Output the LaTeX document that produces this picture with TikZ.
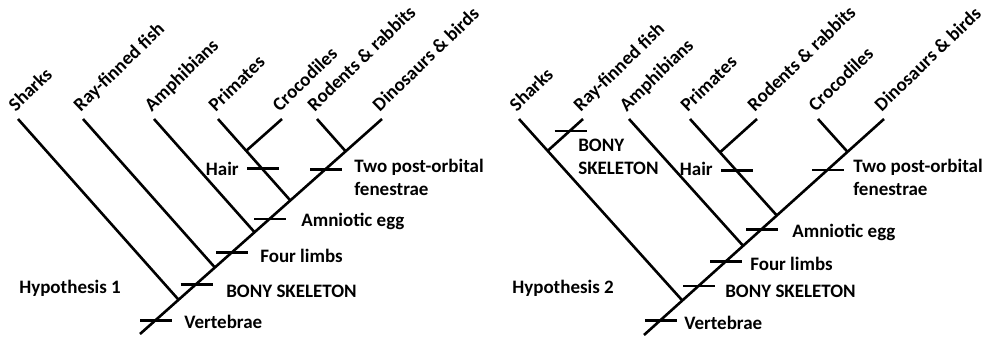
\documentclass[tikz,border=0pt]{standalone}
\usepackage{fontspec}
\setmainfont{Carlito}
\usetikzlibrary{calc}

\newcommand{\trait}[1]{\draw ([xshift=-15pt]#1) -- ([xshift=17pt]#1);}

\begin{document}
\begin{tikzpicture}[x=1pt, y=-1pt, line width=2.6pt,
  every node/.style={font=\fontsize{19}{23}\selectfont\bfseries, inner sep=0pt},
  taxon/.style={rotate=44, anchor=base west},
  note/.style={anchor=base west, align=left}]
\useasboundingbox (0,0) rectangle (988,341);
% Hypothesis 1
\coordinate (rootL) at (140,334);\coordinate (dinoL) at (382,119);
\coordinate (sharkL) at (18,119);\coordinate (rayL) at (83,119);\coordinate (amphL) at (154,119);
\coordinate (primL) at (218,119);\coordinate (crocL) at (282,119);\coordinate (rodL) at (317,119);
\coordinate (jSharkL) at ($(rootL)!(sharkL)!(dinoL)$);\coordinate (jRayL) at ($(rootL)!(rayL)!(dinoL)$);
\coordinate (jAmphL) at ($(rootL)!(amphL)!(dinoL)$);\coordinate (jPrimL) at ($(rootL)!(primL)!(dinoL)$);
\coordinate (jRodL) at ($(rootL)!(rodL)!(dinoL)$);\coordinate (jCrocL) at ($(jPrimL)!(crocL)!(primL)$);
\draw (rootL) -- (dinoL);
\draw (jSharkL) -- (sharkL);\draw (jRayL) -- (rayL);\draw (jAmphL) -- (amphL);
\draw (jPrimL) -- (primL);\draw (jCrocL) -- (crocL);\draw (jRodL) -- (rodL);
\coordinate (vertL) at ($(rootL)!0.063!(dinoL)$);\coordinate (bonyL) at ($(rootL)!0.230!(dinoL)$);
\coordinate (limbL) at ($(rootL)!0.378!(dinoL)$);\coordinate (eggL) at ($(rootL)!0.535!(dinoL)$);
\coordinate (fenL) at ($(rootL)!0.765!(dinoL)$);\coordinate (hairL) at ($(jPrimL)!0.39!(primL)$);
\trait{vertL}\trait{bonyL}\trait{limbL}\trait{eggL}\trait{fenL}\trait{hairL}
\node[taxon] (tSharkL) at ([shift={(-3,-6)}]sharkL) {Sharks};
\node[taxon] (tRayL) at ([shift={(-3,-6)}]rayL) {Ray-finned fish};
\node[taxon] (tAmphL) at ([shift={(-3,-6)}]amphL) {Amphibians};
\node[taxon] (tPrimL) at ([shift={(-3,-6)}]primL) {Primates};
\node[taxon] (tCrocL) at ([shift={(-3,-6)}]crocL) {Crocodiles};
\node[taxon] (tRodL) at ([shift={(-3,-6)}]rodL) {Rodents \& rabbits};
\node[taxon] (tDinoL) at ([shift={(-3,-6)}]dinoL) {Dinosaurs \& birds};
\node[note] (nVertL) at (183,328) {Vertebrae};
\node[note] (nBonyL) at (225,297) {BONY SKELETON};
\node[note] (nLimbL) at (259,262) {Four limbs};
\node[note] (nEggL) at (300,226) {Amniotic egg};
\node[note] (nFenL) at (353,195) {Two post-orbital\\fenestrae};
\node[anchor=base east] (nHairL) at (240,175) {Hair};
\node[note] (hyp1) at (18,293) {Hypothesis 1};
% Hypothesis 2
\coordinate (rootR) at (644,335);\coordinate (dinoR) at (884,119);
\coordinate (sharkR) at (519,119);\coordinate (rayR) at (583,119);\coordinate (amphR) at (629,119);
\coordinate (primR) at (690,119);\coordinate (rodR) at (757,119);\coordinate (crocR) at (818,119);
\coordinate (jSharkR) at ($(rootR)!(sharkR)!(dinoR)$);\coordinate (jRayR) at ($(jSharkR)!(rayR)!(sharkR)$);
\coordinate (jAmphR) at ($(rootR)!(amphR)!(dinoR)$);\coordinate (jPrimR) at ($(rootR)!(primR)!(dinoR)$);
\coordinate (jRodR) at ($(jPrimR)!(rodR)!(primR)$);\coordinate (jCrocR) at ($(rootR)!(crocR)!(dinoR)$);
\draw (rootR) -- (dinoR);
\draw (jSharkR) -- (sharkR);\draw (jRayR) -- (rayR);\draw (jAmphR) -- (amphR);
\draw (jPrimR) -- (primR);\draw (jRodR) -- (rodR);\draw (jCrocR) -- (crocR);
\coordinate (vertR) at ($(rootR)!0.066!(dinoR)$);\coordinate (bonyR) at ($(rootR)!0.227!(dinoR)$);
\coordinate (limbR) at ($(rootR)!0.339!(dinoR)$);\coordinate (eggR) at ($(rootR)!0.489!(dinoR)$);
\coordinate (fenR) at ($(rootR)!0.764!(dinoR)$);\coordinate (hairR) at ($(jPrimR)!0.469!(primR)$);
\coordinate (rayBonyR) at ($(jRayR)!0.62!(rayR)$);
\trait{vertR}\trait{bonyR}\trait{limbR}\trait{eggR}\trait{fenR}\trait{hairR}\trait{rayBonyR}
\node[taxon] (tSharkR) at ([shift={(-3,-6)}]sharkR) {Sharks};
\node[taxon] (tRayR) at ([shift={(-3,-6)}]rayR) {Ray-finned fish};
\node[taxon] (tAmphR) at ([shift={(-3,-6)}]amphR) {Amphibians};
\node[taxon] (tPrimR) at ([shift={(-3,-6)}]primR) {Primates};
\node[taxon] (tRodR) at ([shift={(-3,-6)}]rodR) {Rodents \& rabbits};
\node[taxon] (tCrocR) at ([shift={(-3,-6)}]crocR) {Crocodiles};
\node[taxon] (tDinoR) at ([shift={(-3,-6)}]dinoR) {Dinosaurs \& birds};
\node[note] (nRayBonyR) at (577,174) {BONY\\SKELETON};
\node[note] (nVertR) at (683,329) {Vertebrae};
\node[note] (nBonyR) at (724,297) {BONY SKELETON};
\node[note] (nLimbR) at (749,270) {Four limbs};
\node[note] (nEggR) at (791,237) {Amniotic egg};
\node[note] (nFenR) at (852,195) {Two post-orbital\\fenestrae};
\node[anchor=base east] (nHairR) at (714,175) {Hair};
\node[note] (hyp2) at (511,293) {Hypothesis 2};
\end{tikzpicture}
\end{document}
